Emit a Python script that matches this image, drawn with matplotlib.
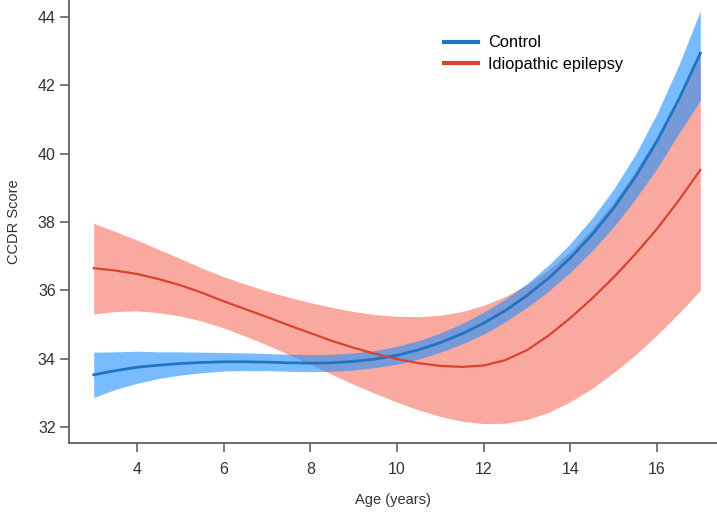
import numpy as np
import matplotlib
matplotlib.use("Agg")
import matplotlib.pyplot as plt

plt.rcParams['font.family'] = ['Liberation Sans', 'DejaVu Sans']

# Age grid (years) and fitted curves
age = [3.0, 3.5, 4.0, 4.5, 5.0, 5.5, 6.0, 6.5, 7.0, 7.5, 8.0, 8.5, 9.0, 9.5, 10.0,
       10.5, 11.0, 11.5, 12.0, 12.5, 13.0, 13.5, 14.0, 14.5, 15.0, 15.5, 16.0, 16.5, 17.0]

control_fit = [33.53, 33.65, 33.75, 33.81, 33.86, 33.89, 33.91, 33.91, 33.90, 33.88,
               33.87, 33.88, 33.92, 33.99, 34.10, 34.26, 34.47, 34.73, 35.04, 35.41,
               35.85, 36.36, 36.95, 37.63, 38.41, 39.32, 40.37, 41.58, 42.94]
control_upper = [34.19, 34.20, 34.22, 34.20, 34.20, 34.19, 34.18, 34.17, 34.15, 34.13,
                 34.12, 34.13, 34.17, 34.24, 34.36, 34.53, 34.75, 35.03, 35.36, 35.74,
                 36.20, 36.74, 37.37, 38.11, 38.96, 39.97, 41.17, 42.58, 44.18]
control_lower = [32.87, 33.10, 33.28, 33.42, 33.52, 33.59, 33.64, 33.65, 33.65, 33.63,
                 33.62, 33.63, 33.67, 33.74, 33.84, 33.99, 34.19, 34.43, 34.72, 35.08,
                 35.50, 35.98, 36.53, 37.15, 37.86, 38.67, 39.57, 40.58, 41.56]

epilepsy_fit = [36.65, 36.58, 36.48, 36.33, 36.15, 35.93, 35.68, 35.45, 35.22, 34.98,
                34.75, 34.52, 34.32, 34.14, 33.99, 33.87, 33.79, 33.76, 33.80, 33.96,
                34.25, 34.68, 35.19, 35.76, 36.38, 37.06, 37.80, 38.63, 39.52]
epilepsy_upper = [37.96, 37.72, 37.47, 37.20, 36.93, 36.65, 36.40, 36.18, 35.98, 35.80,
                  35.64, 35.50, 35.38, 35.29, 35.24, 35.23, 35.27, 35.38, 35.56, 35.82,
                  36.16, 36.60, 37.14, 37.80, 38.58, 39.48, 40.50, 41.68, 42.98]
epilepsy_lower = [35.31, 35.38, 35.40, 35.35, 35.25, 35.10, 34.90, 34.66, 34.40, 34.12,
                  33.83, 33.54, 33.25, 32.98, 32.73, 32.50, 32.31, 32.17, 32.10, 32.11,
                  32.22, 32.43, 32.74, 33.13, 33.59, 34.11, 34.69, 35.32, 36.00]

x_ticks = [4, 6, 8, 10, 12, 14, 16]
y_ticks = [32, 34, 36, 38, 40, 42, 44]

fig = plt.figure(figsize=(7.17, 5.16), dpi=100)
ax = fig.add_axes([69 / 717, 73 / 516, 1 - 69 / 717, 443 / 516])

# bands first, red under blue
ax.fill_between(age, epilepsy_lower, epilepsy_upper, color=(0.97, 0.44, 0.38),
                alpha=0.6, linewidth=0)
ax.fill_between(age, control_lower, control_upper, color=(0.12, 0.56, 1.0),
                alpha=0.6, linewidth=0)

ax.plot(age, control_fit, color='#1f74c4', linewidth=2.0, label='Control')
ax.plot(age, epilepsy_fit, color='#d8432f', linewidth=1.6, label='Idiopathic epilepsy')

ax.set_xlim(2.43, 17.385)
ax.set_ylim(31.533, 44.497)

ax.spines['top'].set_visible(False)
ax.spines['right'].set_visible(False)
for s in ['left', 'bottom']:
    ax.spines[s].set_color('#555555')
    ax.spines[s].set_linewidth(1.2)

ax.set_xticks(x_ticks)
ax.set_yticks(y_ticks)
ax.tick_params(axis='both', colors='#555555', length=6.5, width=1.1,
               labelsize=11.5, labelcolor='#333333')
ax.tick_params(axis='x', pad=7)
ax.tick_params(axis='y', pad=3)

ax.set_xlabel('Age (years)', fontsize=10.5, color='#333333', labelpad=12)
ax.set_ylabel('CCDR Score', fontsize=10.5, color='#333333', labelpad=12)

leg = ax.legend(loc='upper left', bbox_to_anchor=(0.568, 0.935), frameon=False,
                fontsize=11.8, handlelength=2.1, handletextpad=0.6,
                labelspacing=0.4, borderaxespad=0)
for line in leg.get_lines():
    line.set_linewidth(3.0)

fig.savefig('out.png', dpi=100)
